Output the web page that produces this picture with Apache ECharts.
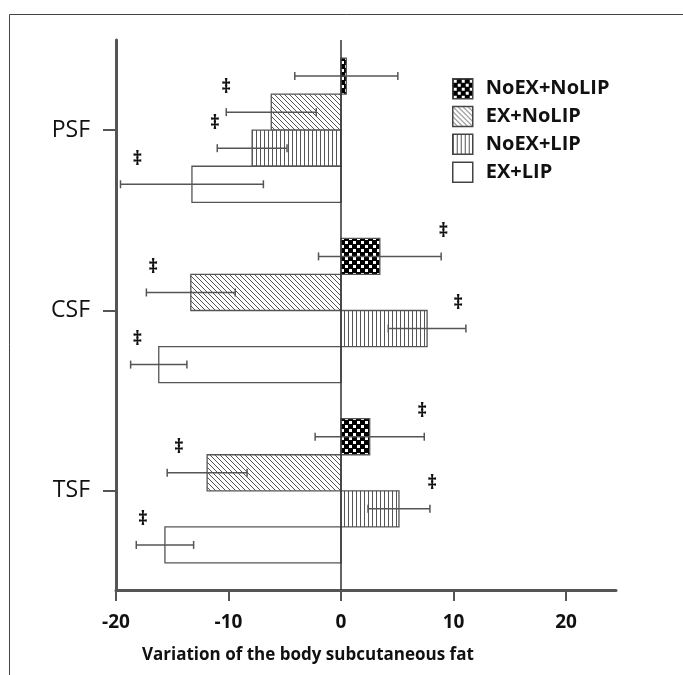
<!DOCTYPE html>
<html><head><meta charset="utf-8">
<script src="https://cdn.jsdelivr.net/npm/echarts@6/dist/echarts.min.js"></script>
<style>html,body{margin:0;padding:0;background:#fff}#c{width:683px;height:675px}</style>
</head><body><div id="c"></div>
<script>
// ---- data ----
const categories = ['PSF', 'CSF', 'TSF'];
const groups = ['NoEX+NoLIP', 'EX+NoLIP', 'NoEX+LIP', 'EX+LIP'];
// mean and error (PSF, CSF, TSF)
const noexNolipMean = [0.47, 3.45, 2.55];
const noexNolipErr = [4.58, 5.45, 4.85];
const exNolipMean = [-6.2, -13.35, -11.9];
const exNolipErr = [4.0, 3.95, 3.55];
const noexLipMean = [-7.9, 7.65, 5.15];
const noexLipErr = [3.1, 3.45, 2.75];
const exLipMean = [-13.25, -16.2, -15.65];
const exLipErr = [6.35, 2.5, 2.55];
// significance daggers: [category index, group index, x value]
const daggers = [[0,1,-10.2],[0,2,-11.2],[0,3,-18.1],[1,0,9.1],[1,1,-16.7],[1,2,10.4],[1,3,-18.1],[2,0,7.2],[2,1,-14.4],[2,2,8.1],[2,3,-17.6]];
const xTicks = [-20, -10, 0, 10, 20];
const xAxisName = 'Variation of the body subcutaneous fat';

// ---- patterns ----
function makeCanvas(w, h, draw) { const c = document.createElement('canvas'); c.width = w; c.height = h; draw(c.getContext('2d')); return c; }
const checker = makeCanvas(8, 8, g => { g.fillStyle = '#000'; g.fillRect(0,0,8,8); g.fillStyle = '#fff'; g.fillRect(1,1,3,3); g.fillRect(5,5,3,3); });
const diag = makeCanvas(5, 5, g => { g.fillStyle = '#fff'; g.fillRect(0,0,5,5); g.strokeStyle = '#555'; g.lineWidth = 1; g.beginPath(); g.moveTo(-1,-1); g.lineTo(6,6); g.moveTo(-1,4); g.lineTo(1,6); g.moveTo(4,-1); g.lineTo(6,1); g.stroke(); });
const vert = makeCanvas(4, 4, g => { g.fillStyle = '#fff'; g.fillRect(0,0,4,4); g.fillStyle = '#555'; g.fillRect(0,0,1,4); });
const fills = [
  { image: checker, repeat: 'repeat' },
  { image: diag, repeat: 'repeat' },
  { image: vert, repeat: 'repeat' },
  '#fff'
];
const means = [noexNolipMean, exNolipMean, noexLipMean, exLipMean];
const errs = [noexNolipErr, exNolipErr, noexLipErr, exLipErr];

const FONT = "'Open Sans', 'DejaVu Sans', sans-serif";

function barRender(k) {
  return function (params, api) {
    const m = api.value(0), c = api.value(1), e = api.value(2);
    const yTop = c - 0.4 + 0.2 * k, yBot = yTop + 0.2;
    const p0 = api.coord([0, yTop]), p1 = api.coord([m, yBot]);
    const x = Math.min(p0[0], p1[0]), w = Math.abs(p1[0] - p0[0]);
    const y = Math.min(p0[1], p1[1]), h = Math.abs(p1[1] - p0[1]);
    const yc = api.coord([0, yTop + 0.1])[1];
    const lo = api.coord([m - e, c])[0], hi = api.coord([m + e, c])[0];
    const ls = { stroke: '#555', lineWidth: 1.5 };
    return { type: 'group', children: [
      { type: 'rect', shape: { x, y, width: w, height: h }, style: { fill: fills[k], stroke: '#555', lineWidth: 1.3 } },
      { type: 'line', shape: { x1: lo, y1: yc, x2: hi, y2: yc }, style: ls },
      { type: 'line', shape: { x1: lo, y1: yc - 4, x2: lo, y2: yc + 4 }, style: ls },
      { type: 'line', shape: { x1: hi, y1: yc - 4, x2: hi, y2: yc + 4 }, style: ls }
    ]};
  };
}

const series = [{
  type: 'scatter', data: [], silent: true,
  markLine: { silent: true, symbol: 'none', label: { show: false }, lineStyle: { color: '#333', width: 1.5, type: 'solid' }, data: [{ xAxis: 0 }] }
}];
groups.forEach((name, k) => {
  series.push({
    type: 'custom', name,
    itemStyle: { color: fills[k], borderColor: '#555', borderWidth: 1.5 },
    encode: { x: 0, y: 1 },
    data: categories.map((_, i) => [means[k][i], i, errs[k][i]]),
    renderItem: barRender(k),
    z: 3
  });
});
series.push({
  type: 'custom', silent: true, z: 4,
  encode: { x: 2, y: 0 },
  data: daggers,
  renderItem: function (params, api) {
    const c = api.value(0), k = api.value(1), xv = api.value(2);
    const p = api.coord([xv, c - 0.3 + 0.2 * k]);
    return { type: 'text', x: p[0], y: p[1] - 25, style: { text: '‡', font: 'bold 19px ' + FONT, fill: '#111', align: 'center', verticalAlign: 'middle' } };
  }
});

const chart = echarts.init(document.getElementById('c'));
chart.setOption({
  animation: false,
  backgroundColor: '#fff',
  grid: { left: 116, right: 67, top: 40, bottom: 85, containLabel: false },
  xAxis: {
    type: 'value', min: -20, max: 24.44, splitLine: { show: false },
    axisLine: { show: true, onZero: false, lineStyle: { color: '#555', width: 3 } },
    axisTick: { show: true, customValues: xTicks, length: 11, lineStyle: { color: '#555', width: 2 } },
    axisLabel: { customValues: xTicks, fontFamily: FONT, fontWeight: 'bold', fontSize: 19, color: '#111', margin: 23 }
  },
  yAxis: {
    type: 'value', inverse: true, min: -0.5, max: 2.55, splitLine: { show: false },
    axisLine: { show: true, onZero: false, lineStyle: { color: '#555', width: 3 } },
    axisTick: { show: true, customValues: [0, 1, 2], length: 13, lineStyle: { color: '#555', width: 2 } },
    axisLabel: { customValues: [0, 1, 2], formatter: v => categories[Math.round(v)], fontFamily: FONT, fontSize: 23, color: '#111', margin: 26 }
  },
  legend: {
    orient: 'vertical', left: 447, top: 73, icon: 'rect', itemWidth: 20, itemHeight: 20, itemGap: 6.3,
    data: groups, selectedMode: false,
    itemStyle: { borderColor: '#444', borderWidth: 1.5 },
    textStyle: { fontFamily: FONT, fontWeight: 'bold', fontSize: 20, color: '#111', padding: [0, 0, 0, 8] }
  },
  graphic: [
    { type: 'line', shape: { x1: 9.5, y1: 14.5, x2: 683, y2: 14.5 }, style: { stroke: '#444', lineWidth: 1 } },
    { type: 'line', shape: { x1: 9.5, y1: 14.5, x2: 9.5, y2: 675 }, style: { stroke: '#444', lineWidth: 1 } },
    { type: 'text', x: 142, y: 655, style: { text: xAxisName, font: 'bold 17px ' + FONT, fill: '#111', verticalAlign: 'middle' } }
  ],
  series
});
</script></body></html>
